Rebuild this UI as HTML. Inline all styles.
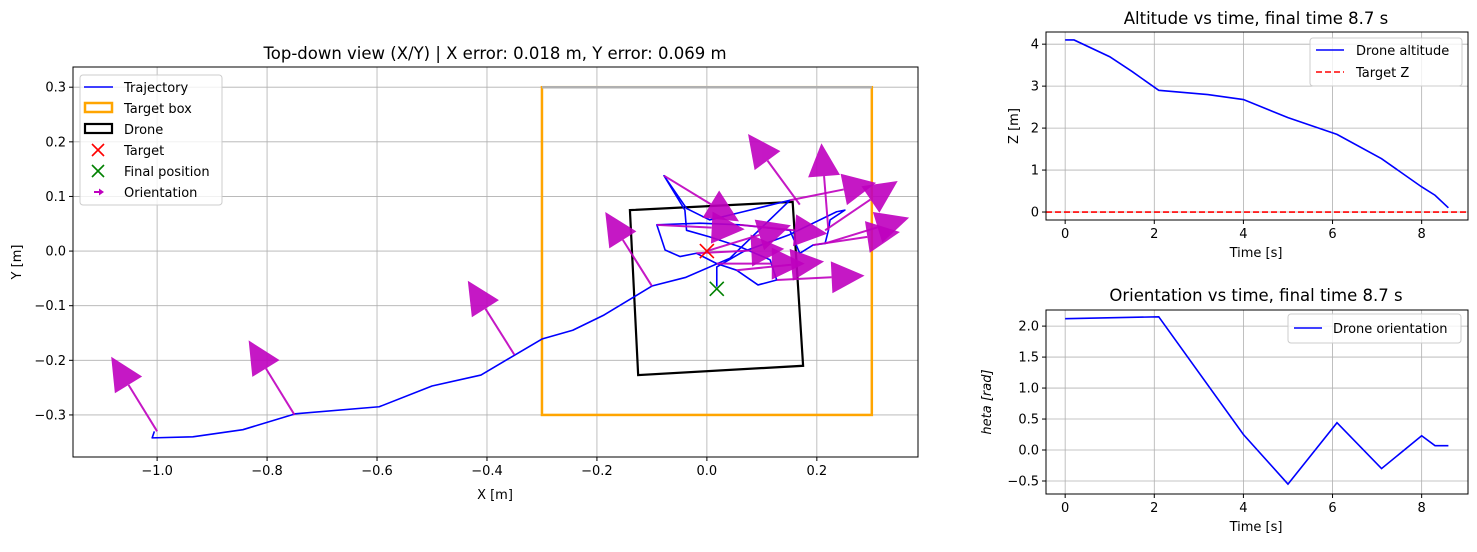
<!DOCTYPE html>
<html><head><meta charset="utf-8"><style>
body{margin:0;background:#fff;}
svg{font-family:"DejaVu Sans","Liberation Sans",sans-serif;}
</style></head><body>
<svg id="c" width="1477" height="547" xmlns="http://www.w3.org/2000/svg"></svg>
<script>
// ---- data ----
const trajX=[-1.005,-1.009,-0.935,-0.844,-0.749,-0.596,-0.5,-0.411,-0.3,-0.244,-0.187,-0.1,-0.038,0.042,0.151,0.066,0.005,-0.037,-0.078,-0.04,-0.037,0.005,0.06,0.115,0.127,0.093,0.054,0.018,-0.019,-0.049,-0.076,-0.091,-0.013,0.06,0.151,0.169,0.193,0.215,0.221,0.224,0.251,0.236,0.15,0.066,0.018,0.018];
const trajY=[-0.33,-0.342,-0.34,-0.327,-0.298,-0.285,-0.247,-0.227,-0.161,-0.145,-0.117,-0.064,-0.048,-0.013,0.093,0.072,0.057,0.078,0.138,0.075,0.038,0.026,0.008,-0.016,-0.053,-0.062,-0.035,-0.023,-0.004,-0.01,0.002,0.048,0.051,0.048,0.038,-0.004,0.011,0.014,0.038,0.057,0.075,0.072,0.03,-0.001,-0.029,-0.065];
const arrowX=[-1.0,-0.75,-0.35,-0.1,-0.078,0.221,0.169,0.151,0.215,-0.091,-0.019,0.018,0.054,0.06,0.215,0.193,0.0,0.127];
const arrowY=[-0.33,-0.30,-0.19,-0.064,0.138,0.038,0.085,0.093,0.038,0.048,-0.004,-0.023,-0.035,0.048,0.014,0.011,0.0,-0.053];
const arrowTheta=[2.12,2.12,2.13,2.13,-0.55,1.65,2.2,0.2,0.6,-0.05,0.05,0.0,0.1,-0.1,0.3,0.15,0.3,0.05];
const droneX=[-0.14,0.156,0.175,-0.125];
const droneY=[0.075,0.09,-0.21,-0.227];
const altT=[0,0.2,1,1.5,2.1,3.2,4,5,6.1,7.1,8,8.3,8.6];
const altZ=[4.1,4.1,3.7,3.35,2.9,2.8,2.68,2.25,1.85,1.27,0.6,0.4,0.1];
const oriT=[0,2.1,4,5,6.1,7.1,8,8.3,8.6];
const oriV=[2.12,2.15,0.25,-0.55,0.44,-0.3,0.23,0.07,0.07];
const mainXTicks=[-1.0,-0.8,-0.6,-0.4,-0.2,0.0,0.2];
const mainYTicks=[-0.3,-0.2,-0.1,0.0,0.1,0.2,0.3];
const timeTicks=[0,2,4,6,8];
const altTicks=[0,1,2,3,4];
const oriTicks=[-0.5,0.0,0.5,1.0,1.5,2.0];

const svg=document.getElementById('c');
const NS='http://www.w3.org/2000/svg';
function el(tag,attrs,parent,text){const e=document.createElementNS(NS,tag);for(const k in attrs)e.setAttribute(k,attrs[k]);if(text!==undefined)e.textContent=text;(parent||svg).appendChild(e);return e;}
function axes(L,T,R,B,x0,x1,y0,y1){return{L,T,R,B,sx:v=>L+(v-x0)/(x1-x0)*(R-L),sy:v=>B-(v-y0)/(y1-y0)*(B-T)};}
function fmt(v,d){let s=v.toFixed(d);return s.replace('-','\u2212');}
function frame(a,name,xt,yt,xd,yd){
  const g=el('g',{},svg);
  
  
  xt.forEach(v=>{const x=a.sx(v);el('line',{x1:x,x2:x,y1:a.T,y2:a.B,stroke:'#b0b0b0','stroke-width':0.8},g);el('line',{x1:x,x2:x,y1:a.B,y2:a.B+4,stroke:'#000'},g);
    const t=el('text',{x:x,y:a.B+18,'text-anchor':'middle','font-size':13},g,fmt(v,xd));});
  yt.forEach(v=>{const y=a.sy(v);el('line',{x1:a.L,x2:a.R,y1:y,y2:y,stroke:'#b0b0b0','stroke-width':0.8},g);el('line',{x1:a.L-4,x2:a.L,y1:y,y2:y,stroke:'#000'},g);
    const t=el('text',{x:a.L-7,y:y+4.5,'text-anchor':'end','font-size':13},g,fmt(v,yd));});
  return g;
}
function border(a){el('rect',{x:a.L,y:a.T,width:a.R-a.L,height:a.B-a.T,fill:'none',stroke:'#000','stroke-width':1});}
function label(x,y,txt,name,size,rot,style){const t=el('text',{x:x,y:y,'text-anchor':'middle','font-size':size||13,transform:rot?`rotate(-90 ${x} ${y})`:'','font-style':style||'normal'},svg,txt);return t;}

// ---- main axes ----
const m=axes(73,67,918,457,-1.153,0.384,-0.377,0.337);
frame(m,'main-grid',mainXTicks,mainYTicks,1,1);
const tb=el('rect',{x:m.sx(-0.3),y:m.sy(0.3),width:m.sx(0.3)-m.sx(-0.3),height:m.sy(-0.3)-m.sy(0.3),fill:'none',stroke:'orange','stroke-width':2.5});

el('line',{x1:m.sx(-0.3),x2:m.sx(0.3),y1:m.sy(0.3),y2:m.sy(0.3),stroke:'#b0b0b0','stroke-width':2.5});
const dp=el('polygon',{points:droneX.map((v,i)=>m.sx(v)+','+m.sy(droneY[i])).join(' '),fill:'none',stroke:'#000','stroke-width':2.2});

const tr=el('polyline',{points:trajX.map((v,i)=>m.sx(v)+','+m.sy(trajY[i])).join(' '),fill:'none',stroke:'#0000ff','stroke-width':1.6,'stroke-linejoin':'round'});

const AL=0.16;
arrowX.forEach((v,i)=>{
  const th=arrowTheta[i];
  const bx=m.sx(v),by=m.sy(arrowY[i]);
  const tx=m.sx(v+AL*Math.cos(th)),ty=m.sy(arrowY[i]+AL*Math.sin(th));
  const dx=tx-bx,dy=ty-by,len=Math.hypot(dx,dy),ux=dx/len,uy=dy/len;
  const hl=33,hw=16;
  const hx=tx-ux*hl,hy=ty-uy*hl;
  const g=el('g',{opacity:0.9});
  
  
  el('line',{x1:bx,y1:by,x2:hx,y2:hy,stroke:'#bf00bf','stroke-width':2},g);
  el('polygon',{points:`${tx},${ty} ${hx-uy*hw},${hy+ux*hw} ${hx+uy*hw},${hy-ux*hw}`,fill:'#bf00bf'},g);
});
function xmark(x,y,col,name){const g=el('g',{stroke:col,'stroke-width':1.6});
 el('line',{x1:x-7,y1:y-7,x2:x+7,y2:y+7},g);el('line',{x1:x-7,y1:y+7,x2:x+7,y2:y-7},g);}
xmark(m.sx(0),m.sy(0),'red','target-marker');
xmark(m.sx(0.018),m.sy(-0.069),'green','final-position-marker');
border(m);
label(495,59,'Top-down view (X/Y) | X error: 0.018 m, Y error: 0.069 m','main-title',16.5);
label(495,499,'X [m]','x-axis-title');
label(21,262,'Y [m]','y-axis-title',13,true);
{const g=el('g',{});
 el('rect',{x:80,y:75,width:142,height:130,rx:3,fill:'#fff','fill-opacity':0.8,stroke:'#ccc'},g);
 const rows=['Trajectory','Target box','Drone','Target','Final position','Orientation'];
 rows.forEach((r,i)=>{const y=87+i*21;const t=el('text',{x:124,y:y+5,'font-size':13},g,r);});
 el('line',{x1:84,x2:113,y1:87,y2:87,stroke:'#0000ff','stroke-width':1.6},g);
 el('rect',{x:85,y:103,width:27,height:9,fill:'none',stroke:'orange','stroke-width':2.5},g);
 el('rect',{x:85,y:124,width:27,height:9,fill:'none',stroke:'#000','stroke-width':2.2},g);
 [[150,'red'],[171,'green']].forEach(([y,c])=>{el('line',{x1:92,y1:y-6,x2:104,y2:y+6,stroke:c,'stroke-width':1.6},g);el('line',{x1:92,y1:y+6,x2:104,y2:y-6,stroke:c,'stroke-width':1.6},g);});
 el('line',{x1:94,x2:100,y1:192,y2:192,stroke:'#bf00bf','stroke-width':2},g);
 el('polygon',{points:'104,192 99,188.5 99,195.5',fill:'#bf00bf'},g);}

// ---- altitude ----
const a=axes(1046,32,1468,220,-0.43,9.04,-0.19,4.29);
frame(a,'altitude-grid',timeTicks,altTicks,0,0);
const al=el('polyline',{points:altT.map((t,i)=>a.sx(t)+','+a.sy(altZ[i])).join(' '),fill:'none',stroke:'#0000ff','stroke-width':1.6});

const tz=el('line',{x1:a.L,x2:a.R,y1:a.sy(0),y2:a.sy(0),stroke:'red','stroke-width':1.6,'stroke-dasharray':'6,3'});

border(a);
label(1256,24,'Altitude vs time, final time 8.7 s','altitude-title',16.5);
label(1256,257,'Time [s]','altitude-x-title');
label(1018,126,'Z [m]','altitude-y-title',13,true);
{const g=el('g',{});
 el('rect',{x:1310,y:38,width:152,height:48,rx:3,fill:'#fff','fill-opacity':0.8,stroke:'#ccc'},g);
 el('line',{x1:1316,x2:1344,y1:50,y2:50,stroke:'#0000ff','stroke-width':1.6},g);
 el('line',{x1:1316,x2:1344,y1:72,y2:72,stroke:'red','stroke-width':1.6,'stroke-dasharray':'6,3'},g);
 el('text',{x:1356,y:55,'font-size':13},g,'Drone altitude');
 el('text',{x:1356,y:77,'font-size':13},g,'Target Z');}

// ---- orientation ----
const o=axes(1046,310,1468,494,-0.43,9.04,-0.71,2.26);
frame(o,'orientation-grid',timeTicks,oriTicks,0,1);
const ol=el('polyline',{points:oriT.map((t,i)=>o.sx(t)+','+o.sy(oriV[i])).join(' '),fill:'none',stroke:'#0000ff','stroke-width':1.6});

border(o);
label(1256,301,'Orientation vs time, final time 8.7 s','orientation-title',16.5);
label(1256,531,'Time [s]','orientation-x-title');
label(991,402,'heta [rad]','orientation-y-title',13,true,'italic');
{const g=el('g',{});
 el('rect',{x:1288,y:314,width:173,height:29,rx:3,fill:'#fff','fill-opacity':0.8,stroke:'#ccc'},g);
 el('line',{x1:1294,x2:1322,y1:328,y2:328,stroke:'#0000ff','stroke-width':1.6},g);
 el('text',{x:1333,y:333,'font-size':13},g,'Drone orientation');}
</script>
</body></html>
